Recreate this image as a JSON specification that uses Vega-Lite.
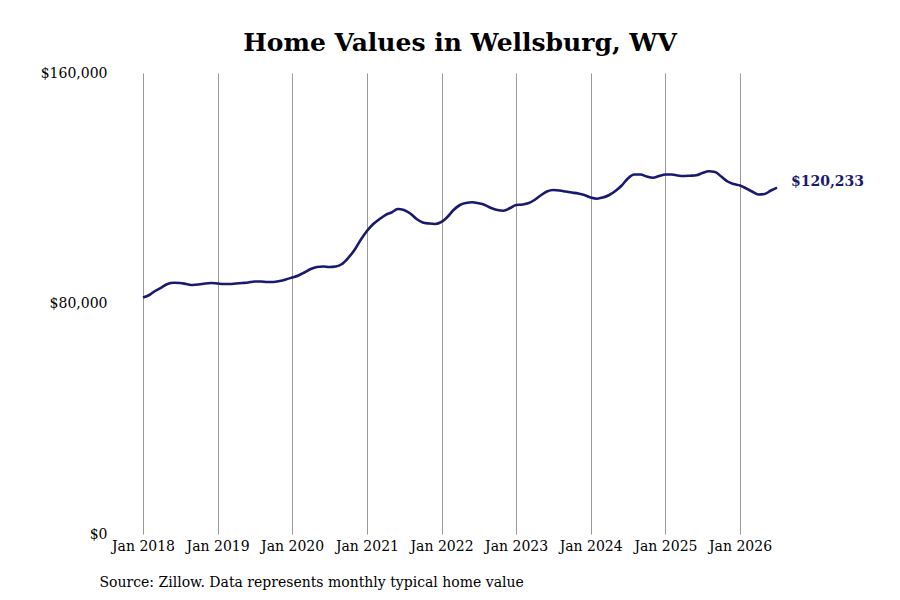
{
  "$schema": "https://vega.github.io/schema/vega-lite/v6.json",
  "width": 700,
  "height": 461,
  "autosize": {"type": "none"},
  "padding": {"left": 110, "top": 73, "right": 90, "bottom": 66},
  "background": "white",
  "title": {
    "text": "Home Values in Wellsburg, WV",
    "font": "DejaVu Serif",
    "fontSize": 25,
    "fontWeight": "bold",
    "color": "black",
    "anchor": "middle",
    "offset": 10
  },
  "data": {
    "values": [
      {"date": "2018-01-01", "value": 82050}, {"date": "2018-02-01", "value": 82950}, {"date": "2018-03-01", "value": 84340},
      {"date": "2018-04-01", "value": 85550}, {"date": "2018-05-01", "value": 86770}, {"date": "2018-06-01", "value": 87200},
      {"date": "2018-07-01", "value": 87110}, {"date": "2018-08-01", "value": 86770}, {"date": "2018-09-01", "value": 86420},
      {"date": "2018-10-01", "value": 86600}, {"date": "2018-11-01", "value": 86940}, {"date": "2018-12-01", "value": 87110},
      {"date": "2019-01-01", "value": 86940}, {"date": "2019-02-01", "value": 86770}, {"date": "2019-03-01", "value": 86770},
      {"date": "2019-04-01", "value": 86940}, {"date": "2019-05-01", "value": 87110}, {"date": "2019-06-01", "value": 87290},
      {"date": "2019-07-01", "value": 87640}, {"date": "2019-08-01", "value": 87640}, {"date": "2019-09-01", "value": 87460},
      {"date": "2019-10-01", "value": 87460}, {"date": "2019-11-01", "value": 87800}, {"date": "2019-12-01", "value": 88330},
      {"date": "2020-01-01", "value": 89020}, {"date": "2020-02-01", "value": 89720}, {"date": "2020-03-01", "value": 90760},
      {"date": "2020-04-01", "value": 91970}, {"date": "2020-05-01", "value": 92670}, {"date": "2020-06-01", "value": 92840},
      {"date": "2020-07-01", "value": 92670}, {"date": "2020-08-01", "value": 92840}, {"date": "2020-09-01", "value": 93710},
      {"date": "2020-10-01", "value": 95790}, {"date": "2020-11-01", "value": 98570}, {"date": "2020-12-01", "value": 102040},
      {"date": "2021-01-01", "value": 105160}, {"date": "2021-02-01", "value": 107590}, {"date": "2021-03-01", "value": 109150},
      {"date": "2021-04-01", "value": 110710}, {"date": "2021-05-01", "value": 111580}, {"date": "2021-06-01", "value": 112800},
      {"date": "2021-07-01", "value": 112450}, {"date": "2021-08-01", "value": 111230}, {"date": "2021-09-01", "value": 109320},
      {"date": "2021-10-01", "value": 108110}, {"date": "2021-11-01", "value": 107760}, {"date": "2021-12-01", "value": 107590},
      {"date": "2022-01-01", "value": 108290}, {"date": "2022-02-01", "value": 110200}, {"date": "2022-03-01", "value": 112450},
      {"date": "2022-04-01", "value": 114190}, {"date": "2022-05-01", "value": 114880}, {"date": "2022-06-01", "value": 115120},
      {"date": "2022-07-01", "value": 114770}, {"date": "2022-08-01", "value": 114190}, {"date": "2022-09-01", "value": 113150},
      {"date": "2022-10-01", "value": 112450}, {"date": "2022-11-01", "value": 112210}, {"date": "2022-12-01", "value": 113040},
      {"date": "2023-01-01", "value": 114190}, {"date": "2023-02-01", "value": 114360}, {"date": "2023-03-01", "value": 114770},
      {"date": "2023-04-01", "value": 115920}, {"date": "2023-05-01", "value": 117480}, {"date": "2023-06-01", "value": 118870},
      {"date": "2023-07-01", "value": 119390}, {"date": "2023-08-01", "value": 119220}, {"date": "2023-09-01", "value": 118870},
      {"date": "2023-10-01", "value": 118520}, {"date": "2023-11-01", "value": 118180}, {"date": "2023-12-01", "value": 117660},
      {"date": "2024-01-01", "value": 116790}, {"date": "2024-02-01", "value": 116370}, {"date": "2024-03-01", "value": 116790},
      {"date": "2024-04-01", "value": 117660}, {"date": "2024-05-01", "value": 119050}, {"date": "2024-06-01", "value": 120960},
      {"date": "2024-07-01", "value": 123390}, {"date": "2024-08-01", "value": 124770}, {"date": "2024-09-01", "value": 124770},
      {"date": "2024-10-01", "value": 124080}, {"date": "2024-11-01", "value": 123660}, {"date": "2024-12-01", "value": 124250},
      {"date": "2025-01-01", "value": 124770}, {"date": "2025-02-01", "value": 124770}, {"date": "2025-03-01", "value": 124430},
      {"date": "2025-04-01", "value": 124250}, {"date": "2025-05-01", "value": 124360}, {"date": "2025-06-01", "value": 124500},
      {"date": "2025-07-01", "value": 125290}, {"date": "2025-08-01", "value": 125880}, {"date": "2025-09-01", "value": 125640},
      {"date": "2025-10-01", "value": 124080}, {"date": "2025-11-01", "value": 122340}, {"date": "2025-12-01", "value": 121470},
      {"date": "2026-01-01", "value": 120960}, {"date": "2026-02-01", "value": 119920}, {"date": "2026-03-01", "value": 118870},
      {"date": "2026-04-01", "value": 117830}, {"date": "2026-05-01", "value": 118000}, {"date": "2026-06-01", "value": 119220},
      {"date": "2026-07-01", "value": 120233}
    ]
  },
  "encoding": {
    "x": {
      "field": "date",
      "type": "temporal",
      "scale": {"type": "utc", "padding": 33, "nice": false},
      "axis": {
        "title": "Source: Zillow. Data represents monthly typical home value",
        "titleFont": "DejaVu Serif",
        "titleFontSize": 14,
        "titleFontWeight": "normal",
        "titleColor": "black",
        "titleAnchor": "start",
        "titleAlign": "left",
        "titleBaseline": "middle",
        "titleX": -11,
        "titleY": 48,
        "format": "%b %Y",
        "tickCount": {"interval": "year", "step": 1},
        "grid": true,
        "gridColor": "#999999",
        "gridWidth": 1,
        "domain": false,
        "ticks": false,
        "labelFont": "DejaVu Serif",
        "labelFontSize": 14,
        "labelColor": "black",
        "labelPadding": 5
      }
    },
    "y": {
      "field": "value",
      "type": "quantitative",
      "scale": {"domain": [0, 160000]},
      "axis": {
        "title": null,
        "values": [0, 80000, 160000],
        "format": "$,.0f",
        "grid": false,
        "domain": false,
        "ticks": false,
        "labelFont": "DejaVu Serif",
        "labelFontSize": 14,
        "labelColor": "black",
        "labelPadding": 3
      }
    }
  },
  "layer": [
    {
      "mark": {"type": "line", "color": "#191970", "strokeWidth": 2.6, "interpolate": "monotone"}
    },
    {
      "transform": [{"filter": "datum.value === 120233"}],
      "mark": {
        "type": "text",
        "align": "left",
        "dx": 14,
        "dy": -6,
        "font": "DejaVu Serif",
        "fontSize": 14,
        "fontWeight": "bold",
        "color": "#191970"
      },
      "encoding": {
        "text": {"field": "value", "type": "quantitative", "format": "$,.0f"}
      }
    }
  ],
  "config": {"view": {"stroke": null}}
}
